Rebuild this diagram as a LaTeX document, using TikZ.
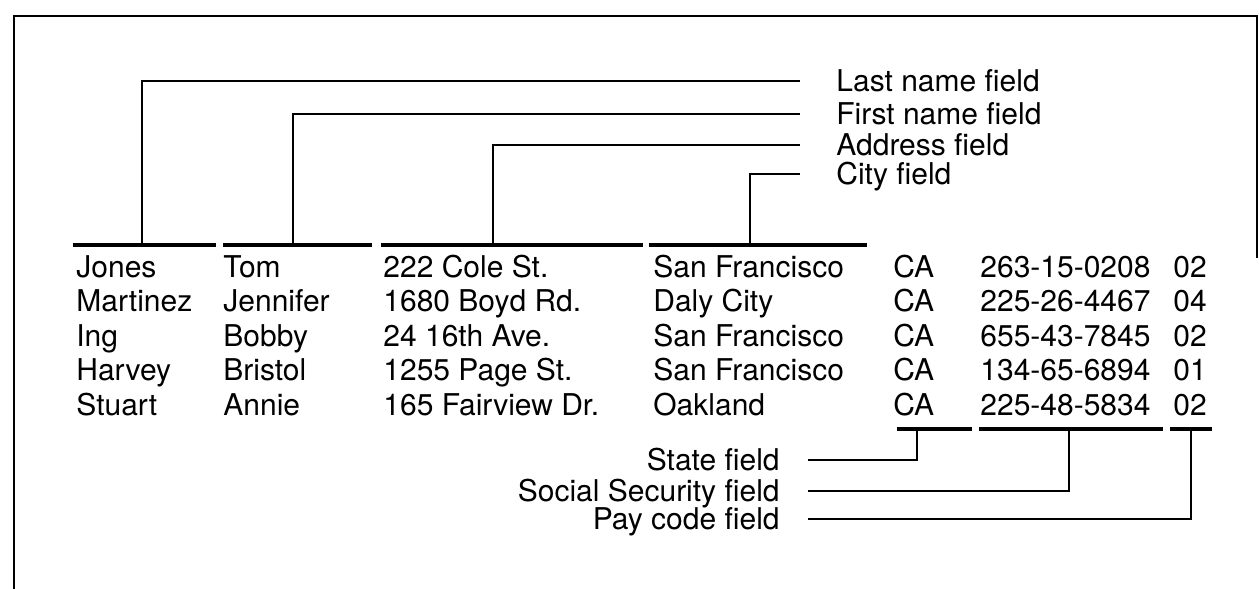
\documentclass[tikz,border=0pt]{standalone}
\usepackage{fontspec}
\setmainfont{TeX Gyre Heros}

\tikzset{
  cell/.style={anchor=base west, inner sep=0pt, font=\fontsize{15}{18}\selectfont},
  flabel/.style={inner sep=0pt, text height=10.8pt, text depth=0pt, font=\fontsize{15}{18}\selectfont},
  fieldbar/.style={line width=2pt},
  lead/.style={line width=1pt},
  frame/.style={line width=1.2pt}
}

\begin{document}
\begin{tikzpicture}[x=0.5pt, y=-0.5pt]
\useasboundingbox (0,0) rectangle (1259,589);

% Cadre (ouvert en bas)
\draw[frame] (14,589) -- (14,16) -- (1257,16) -- (1257,258);

% Enregistrements
\foreach \ln/\fn/\ad/\ci/\ss/\pc [count=\i] in {
  Jones/Tom/222 Cole St./San Francisco/263-15-0208/02,
  Martinez/Jennifer/1680 Boyd Rd./Daly City/225-26-4467/04,
  Ing/Bobby/24 16th Ave./San Francisco/655-43-7845/02,
  Harvey/Bristol/1255 Page St./San Francisco/134-65-6894/01,
  Stuart/Annie/165 Fairview Dr./Oakland/225-48-5834/02}
{
  \pgfmathsetmacro{\yb}{277+34.5*(\i-1)}
  \node[cell] (ln\i) at (76,\yb)   {\ln};
  \node[cell] (fn\i) at (223,\yb)  {\fn};
  \node[cell] (ad\i) at (383,\yb)  {\ad};
  \node[cell] (ci\i) at (653,\yb)  {\ci};
  \node[cell] (st\i) at (893,\yb)  {CA};
  \node[cell] (ss\i) at (980,\yb)  {\ss};
  \node[cell] (pc\i) at (1173,\yb) {\pc};
}

% Barres des champs (haut)
\draw[fieldbar] (73,245)  -- (216,245);
\draw[fieldbar] (223,245) -- (372,245);
\draw[fieldbar] (381,245) -- (643,245);
\draw[fieldbar] (649,245) -- (867,245);

% Barres des champs (bas)
\draw[fieldbar] (897,429)  -- (972,429);
\draw[fieldbar] (979,429)  -- (1163,429);
\draw[fieldbar] (1170,429) -- (1212,429);

% Points de depart des renvois
\coordinate (lastpt) at (142,245);
\coordinate (firstpt) at (293,245);
\coordinate (addrpt) at (493,245);
\coordinate (citypt) at (750,245);
\coordinate (statept) at (917,429);
\coordinate (sspt) at (1069,429);
\coordinate (paypt) at (1191,429);

% Etiquettes
\node[flabel, anchor=west] (lastlbl)  at (836,81)  {Last name field};
\node[flabel, anchor=west] (firstlbl) at (836,114) {First name field};
\node[flabel, anchor=west] (addrlbl)  at (836,145) {Address field};
\node[flabel, anchor=west] (citylbl)  at (836,174) {City field};
\node[flabel, anchor=east] (statelbl) at (780,460) {State field};
\node[flabel, anchor=east] (sslbl)    at (780,491) {Social Security field};
\node[flabel, anchor=east] (paylbl)   at (780,519) {Pay code field};

% Renvois
\draw[lead] (lastpt)  |- ([xshift=-18pt]lastlbl.west);
\draw[lead] (firstpt) |- ([xshift=-18pt]firstlbl.west);
\draw[lead] (addrpt)  |- ([xshift=-18pt]addrlbl.west);
\draw[lead] (citypt)  |- ([xshift=-18pt]citylbl.west);
\draw[lead] (statept) |- ([xshift=14pt]statelbl.east);
\draw[lead] (sspt)    |- ([xshift=14pt]sslbl.east);
\draw[lead] (paypt)   |- ([xshift=14pt]paylbl.east);

\end{tikzpicture}
\end{document}
